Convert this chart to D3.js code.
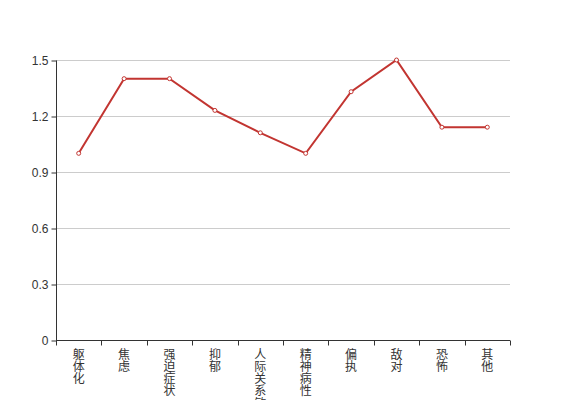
<!DOCTYPE html>
<meta charset="utf-8">
<head>
  <script src="https://cdn.jsdelivr.net/npm/d3@7"></script>
</head>
<style>
  body { margin: 0; background: #fff; }
  text { font-family: "Liberation Sans", "Noto Sans CJK SC", sans-serif; font-size: 12px; fill: #333; }
  .grid line { stroke: #ccc; }
</style>
<body>
<div id="chart"></div>
<script>
  // categories and values
  var categories = ["躯体化", "焦虑", "强迫症状", "抑郁", "人际关系敏感", "精神病性", "偏执", "敌对", "恐怖", "其他"];
  var values = [1.0, 1.4, 1.4, 1.23, 1.11, 1.0, 1.33, 1.5, 1.14, 1.14];
  var yTicks = [0, 0.3, 0.6, 0.9, 1.2, 1.5];

  var width = 567, height = 400;
  var margin = {top: 60, right: 57, bottom: 60, left: 56};

  var svg = d3.select("#chart").append("svg")
    .attr("width", width)
    .attr("height", height);

  var x = d3.scaleBand()
    .domain(categories)
    .range([margin.left, width - margin.right]);

  var y = d3.scaleLinear()
    .domain([0, 1.5])
    .range([height - margin.bottom, margin.top]);

  // grid lines
  svg.append("g")
    .attr("class", "grid")
    .selectAll("line")
    .data(yTicks.slice(1))
    .enter().append("line")
    .attr("x1", margin.left)
    .attr("x2", width - margin.right)
    .attr("y1", function(d) { return Math.round(y(d)) + 0.5; })
    .attr("y2", function(d) { return Math.round(y(d)) + 0.5; });

  // y axis
  var yAxis = svg.append("g")
    .attr("transform", "translate(" + (margin.left + 0.5) + ",0.5)")
    .call(d3.axisLeft(y).tickValues(yTicks).tickSize(5).tickPadding(3)
      .tickFormat(function(d) { return d === 0 ? "0" : d3.format(".1f")(d); }));
  yAxis.selectAll("path, line").attr("stroke", "#333");
  yAxis.select(".domain").attr("d", "M0," + y(1.5) + "V" + y(0));
  yAxis.selectAll("text")
    .style("font-size", "12px")
    .style("font-family", "'Liberation Sans', sans-serif")
    .attr("fill", "#333");

  // x axis with ticks on band boundaries
  var xg = svg.append("g")
    .attr("transform", "translate(0," + (Math.round(y(0)) + 0.5) + ")");
  xg.append("line")
    .attr("x1", margin.left).attr("x2", width - margin.right)
    .attr("stroke", "#333");
  var bounds = categories.map(function(c) { return x(c); }).concat([width - margin.right]);
  xg.selectAll(".tick")
    .data(bounds)
    .enter().append("line")
    .attr("x1", function(d) { return Math.round(d) + 0.5; })
    .attr("x2", function(d) { return Math.round(d) + 0.5; })
    .attr("y1", 0).attr("y2", 5)
    .attr("stroke", "#333");

  // vertical labels, one character per line
  var labels = xg.selectAll(".label")
    .data(categories)
    .enter().append("text")
    .attr("class", "label")
    .attr("text-anchor", "middle");
  labels.selectAll("tspan")
    .data(function(d) { return d.split("").map(function(ch) { return {ch: ch, cat: d}; }); })
    .enter().append("tspan")
    .attr("x", function(d) { return x(d.cat) + x.bandwidth() / 2; })
    .attr("y", function(d, i) { return 18 + i * 12.3; })
    .text(function(d) { return d.ch; });

  // line
  var line = d3.line()
    .x(function(d, i) { return x(categories[i]) + x.bandwidth() / 2; })
    .y(function(d) { return y(d); });

  svg.append("path")
    .datum(values)
    .attr("fill", "none")
    .attr("stroke", "#c23531")
    .attr("stroke-width", 2)
    .attr("d", line);

  svg.append("g")
    .selectAll("circle")
    .data(values)
    .enter().append("circle")
    .attr("cx", function(d, i) { return x(categories[i]) + x.bandwidth() / 2; })
    .attr("cy", function(d) { return y(d); })
    .attr("r", 2)
    .attr("fill", "#fff")
    .attr("stroke", "#c23531")
    .attr("stroke-width", 1);
</script>
</body>
